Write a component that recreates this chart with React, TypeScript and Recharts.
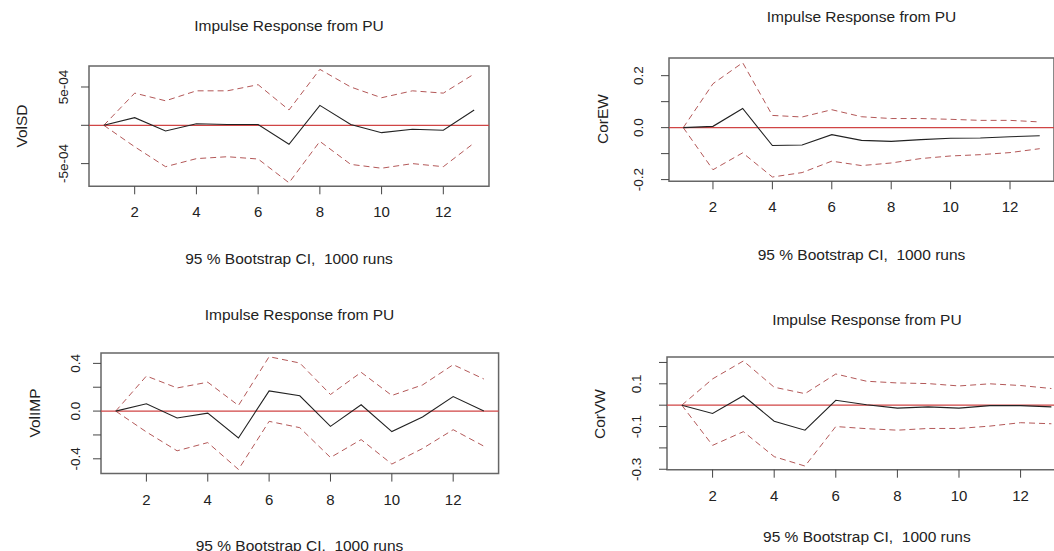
import React from "react";
import { LineChart, Line, XAxis, YAxis, ReferenceLine, ReferenceArea } from "recharts";

// horizon steps of the impulse response
const steps = [1, 2, 3, 4, 5, 6, 7, 8, 9, 10, 11, 12, 13];
const xTicks = [2, 4, 6, 8, 10, 12];
const xDomain: [number, number] = [0.52, 13.48];

const titleText = "Impulse Response from PU";
const captionText = "95 % Bootstrap CI,  1000 runs";

// VolSD
const volsdIrf = [0, 1.0e-4, -0.74e-4, 0.2e-4, 0.1e-4, 0.1e-4, -2.48e-4, 2.6e-4, 0.1e-4, -0.96e-4, -0.52e-4, -0.65e-4, 2.0e-4];
const volsdUpper = [0, 4.2e-4, 3.2e-4, 4.5e-4, 4.5e-4, 5.3e-4, 2.0e-4, 7.3e-4, 5.0e-4, 3.6e-4, 4.5e-4, 4.2e-4, 6.7e-4];
const volsdLower = [0, -2.8e-4, -5.4e-4, -4.35e-4, -4.1e-4, -4.4e-4, -7.5e-4, -2.1e-4, -5.1e-4, -5.6e-4, -5.0e-4, -5.4e-4, -2.3e-4];
const volsdTicks = [-5e-4, 0, 5e-4];
const volsdTickLabels = ["-5e-04", "", "5e-04"];

// CorEW
const corewIrf = [0, 0.005, 0.074, -0.069, -0.067, -0.027, -0.049, -0.053, -0.046, -0.041, -0.04, -0.035, -0.031];
const corewUpper = [0, 0.169, 0.25, 0.047, 0.041, 0.069, 0.042, 0.035, 0.035, 0.032, 0.028, 0.028, 0.022];
const corewLower = [0, -0.162, -0.097, -0.19, -0.173, -0.129, -0.146, -0.136, -0.119, -0.109, -0.104, -0.096, -0.081];
const corewTicks = [-0.2, -0.1, 0, 0.1, 0.2];
const corewTickLabels = ["-0.2", "", "0.0", "", "0.2"];

// VolIMP
const volimpIrf = [0, 0.061, -0.058, -0.017, -0.225, 0.169, 0.128, -0.128, 0.053, -0.172, -0.05, 0.122, 0];
const volimpUpper = [0, 0.294, 0.194, 0.242, 0.047, 0.456, 0.403, 0.139, 0.325, 0.131, 0.219, 0.389, 0.269];
const volimpLower = [0, -0.175, -0.333, -0.264, -0.489, -0.086, -0.139, -0.389, -0.239, -0.444, -0.314, -0.156, -0.294];
const volimpTicks = [-0.4, -0.2, 0, 0.2, 0.4];
const volimpTickLabels = ["-0.4", "", "0.0", "", "0.4"];

// CorVW
const corvwIrf = [0, -0.039, 0.044, -0.075, -0.117, 0.023, 0.002, -0.014, -0.008, -0.014, -0.002, -0.002, -0.008];
const corvwUpper = [0, 0.123, 0.207, 0.084, 0.054, 0.146, 0.112, 0.104, 0.101, 0.09, 0.1, 0.092, 0.078];
const corvwLower = [0, -0.188, -0.124, -0.241, -0.285, -0.1, -0.11, -0.117, -0.109, -0.109, -0.098, -0.082, -0.087];
const corvwTicks = [-0.3, -0.2, -0.1, 0, 0.1, 0.2];
const corvwTickLabels = ["-0.3", "", "-0.1", "", "0.1", ""];

const FONT = '"Liberation Sans", Arial, Helvetica, sans-serif';
const PAD_L = 90;
const PAD_T = 10;
const PAD_R = 10;
const PAD_B = 40;

const XTick = (props: any) => {
  const { x, y, payload } = props;
  return (
    <text x={x} y={y} dy="0.35em" textAnchor="middle" fontFamily={FONT} fontSize={15} fill="#222">
      {payload.value}
    </text>
  );
};

const makeYTick = (ticks: number[], labels: string[]) => (props: any) => {
  const { x, y, payload } = props;
  const i = ticks.findIndex((t) => Math.abs(t - payload.value) < 1e-9);
  const label = i >= 0 ? labels[i] : "";
  return (
    <text
      transform={`translate(${x},${y}) rotate(-90)`}
      dy="0.35em"
      textAnchor="middle"
      fontFamily={FONT}
      fontSize={13.5}
      fill="#222"
    >
      {label}
    </text>
  );
};

type PanelProps = {
  left: number;
  top: number;
  width: number;
  height: number;
  yDomain: [number, number];
  yTicks: number[];
  yTickLabels: string[];
  yName: string;
  irf: number[];
  upper: number[];
  lower: number[];
  yTickGap: number;
  yNameGap: number;
  titleGap: number;
  captionGap: number;
};

function Panel(p: PanelProps) {
  const rows = steps.map((s, i) => ({ step: s, irf: p.irf[i], upper: p.upper[i], lower: p.lower[i] }));
  const cx = p.left + p.width / 2;
  const textStyle: React.CSSProperties = {
    position: "absolute",
    width: 400,
    height: 20,
    lineHeight: "20px",
    textAlign: "center",
    fontFamily: FONT,
    fontSize: 15.5,
    color: "#222",
    whiteSpace: "pre",
  };
  return (
    <>
      <div style={{ ...textStyle, left: cx - 200, top: p.top - p.titleGap - 10 }}>{titleText}</div>
      <div style={{ ...textStyle, left: cx - 200, top: p.top + p.height + p.captionGap - 10 }}>{captionText}</div>
      <div
        style={{
          ...textStyle,
          width: 100,
          left: p.left - p.yNameGap - 50,
          top: p.top + p.height / 2 - 10,
          transform: "rotate(-90deg)",
        }}
      >
        {p.yName}
      </div>
      <div style={{ position: "absolute", left: p.left - PAD_L, top: p.top - PAD_T }}>
        <LineChart
          width={p.width + PAD_L + PAD_R}
          height={p.height + PAD_T + PAD_B}
          data={rows}
          margin={{ top: PAD_T, right: PAD_R, left: 0, bottom: 0 }}
        >
          <XAxis
            dataKey="step"
            type="number"
            domain={xDomain}
            ticks={xTicks}
            interval={0}
            allowDataOverflow
            axisLine={false}
            tickLine={{ stroke: "#444" }}
            tickSize={8}
            tickMargin={17.7}
            height={PAD_B}
            tick={XTick}
          />
          <YAxis
            type="number"
            domain={p.yDomain}
            ticks={p.yTicks}
            interval={0}
            allowDataOverflow
            axisLine={false}
            tickLine={{ stroke: "#444" }}
            tickSize={8}
            tickMargin={p.yTickGap - 8}
            width={PAD_L}
            tick={makeYTick(p.yTicks, p.yTickLabels)}
          />
          <ReferenceArea
            x1={xDomain[0]}
            x2={xDomain[1]}
            y1={p.yDomain[0]}
            y2={p.yDomain[1]}
            fill="none"
            stroke="#666"
            strokeWidth={1.5}
          />
          <ReferenceLine y={0} stroke="#d04545" strokeWidth={1.2} />
          <Line dataKey="upper" stroke="#b35757" strokeWidth={1} strokeDasharray="6 4" dot={false} isAnimationActive={false} />
          <Line dataKey="lower" stroke="#b35757" strokeWidth={1} strokeDasharray="6 4" dot={false} isAnimationActive={false} />
          <Line dataKey="irf" stroke="#222" strokeWidth={1.1} dot={false} isAnimationActive={false} />
        </LineChart>
      </div>
    </>
  );
}

export default function App() {
  return (
    <div
      style={{
        position: "fixed",
        left: 0,
        top: 0,
        width: 1054,
        height: 551,
        overflow: "hidden",
        background: "#fff",
      }}
    >
      <Panel
        left={89}
        top={65.7}
        width={400}
        height={120.3}
        yDomain={[-7.96e-4, 7.74e-4]}
        yTicks={volsdTicks}
        yTickLabels={volsdTickLabels}
        yName="VolSD"
        irf={volsdIrf}
        upper={volsdUpper}
        lower={volsdLower}
        yTickGap={26}
        yNameGap={67}
        titleGap={40}
        captionGap={73}
      />
      <Panel
        left={669}
        top={57.7}
        width={385}
        height={123.3}
        yDomain={[-0.2065, 0.268]}
        yTicks={corewTicks}
        yTickLabels={corewTickLabels}
        yName="CorEW"
        irf={corewIrf}
        upper={corewUpper}
        lower={corewLower}
        yTickGap={31}
        yNameGap={66}
        titleGap={41}
        captionGap={74}
      />
      <Panel
        left={100.7}
        top={352.7}
        width={397.6}
        height={120.6}
        yDomain={[-0.524, 0.487]}
        yTicks={volimpTicks}
        yTickLabels={volimpTickLabels}
        yName="VolIMP"
        irf={volimpIrf}
        upper={volimpUpper}
        lower={volimpLower}
        yTickGap={25.7}
        yNameGap={65.7}
        titleGap={37.7}
        captionGap={72.7}
      />
      <Panel
        left={667.3}
        top={357.3}
        width={399.2}
        height={112.7}
        yDomain={[-0.302, 0.2255]}
        yTicks={corvwTicks}
        yTickLabels={corvwTickLabels}
        yName="CorVW"
        irf={corvwIrf}
        upper={corvwUpper}
        lower={corvwLower}
        yTickGap={30.6}
        yNameGap={67}
        titleGap={37.3}
        captionGap={67}
      />
    </div>
  );
}
